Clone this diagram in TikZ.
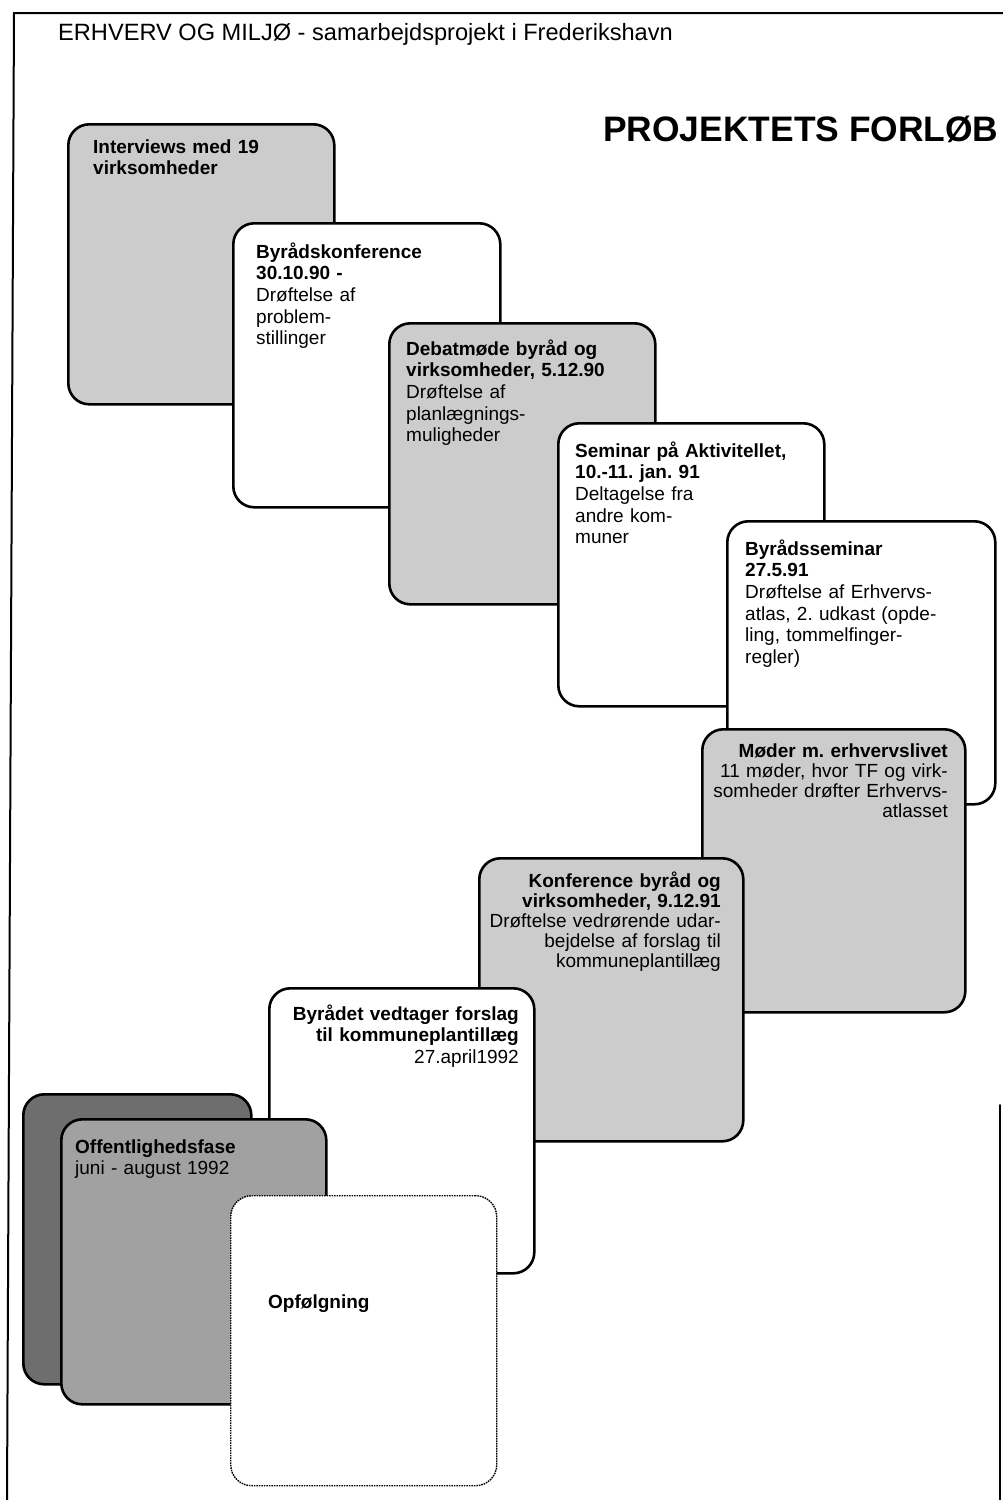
\documentclass[tikz,border=0pt]{standalone}
\usepackage{fontspec}
\setmainfont{Liberation Sans}
\frenchspacing
\definecolor{shadeA}{gray}{0.80}
\definecolor{shadeB}{gray}{0.63}
\definecolor{shadeC}{gray}{0.43}
\tikzset{
  card/.style={draw=black, line width=2.6pt, rounded corners=21pt, inner sep=0pt, anchor=north west, fill=white},
  lightcard/.style={card, fill=shadeA},
  midcard/.style={card, fill=shadeB},
  darkcard/.style={card, fill=shadeC},
  dotcard/.style={card, line width=1.4pt, dash pattern=on 1.6pt off 0.9pt},
  body/.style={inner sep=0pt, text width=255pt, font=\fontsize{19}{21.7}\selectfont\frenchspacing},
  tightbody/.style={font=\fontsize{19}{20.2}\selectfont\frenchspacing},
  lefttext/.style={body, align=left, anchor=base west},
  righttext/.style={body, align=right, anchor=base east},
  frameline/.style={line width=2pt, line cap=round}
}
\begin{document}
\begin{tikzpicture}[x=1pt,y=-1pt]
\useasboundingbox[fill=white] (0,0) rectangle (1003,1500);
% frame
\coordinate (ftl) at (14,13);
\coordinate (ftr) at (1003,13);
\coordinate (fbl) at (7,1500);
\coordinate (frt) at (1000,1105);
\coordinate (frb) at (1000,1500);
\draw[frameline] (ftr) -- (ftl) -- (fbl);
\draw[frameline] (frt) -- (frb);
% headings
\node[inner sep=0pt, anchor=base west, font=\fontsize{23.6}{27}\selectfont] (title) at (58,40) {ERHVERV OG MILJØ - samarbejdsprojekt i Frederikshavn};
\node[inner sep=0pt, anchor=base west, font=\fontsize{35.4}{40}\selectfont\bfseries] (head) at (603,141) {PROJEKTETS FORLØB};
% card 1
\node[lightcard, minimum width=266pt, minimum height=280pt] (c1) at (67,123) {};
\node[lefttext] (t1) at (93,153) {\bfseries Interviews med 19\\virksomheder};
% card 2
\node[card, minimum width=267pt, minimum height=284pt] (c2) at (232,222) {};
\node[lefttext] (t2) at (256,258) {\bfseries Byrådskonference\\30.10.90 -\\\mdseries Drøftelse af\\problem-\\stillinger};
% card 3
\node[lightcard, minimum width=266pt, minimum height=281pt] (c3) at (388,322) {};
\node[lefttext] (t3) at (406,355) {\bfseries Debatmøde byråd og\\virksomheder, 5.12.90\\\mdseries Drøftelse af\\planlægnings-\\muligheder};
% card 4
\node[card, minimum width=266pt, minimum height=283pt] (c4) at (557,422) {};
\node[lefttext] (t4) at (575,457) {\bfseries Seminar på Aktivitellet,\\10.-11. jan. 91\\\mdseries Deltagelse fra\\andre kom-\\muner};
% card 5
\node[card, minimum width=268pt, minimum height=283pt] (c5) at (726,520) {};
\node[lefttext] (t5) at (745,555) {\bfseries Byrådsseminar\\27.5.91\\\mdseries Drøftelse af Erhvervs-\\atlas, 2. udkast (opde-\\ling, tommelfinger-\\regler)};
% card 6
\node[lightcard, minimum width=263pt, minimum height=283pt] (c6) at (701,728) {};
\node[righttext, tightbody] (t6) at (948,757) {\bfseries Møder m. erhvervslivet\\\mdseries 11 møder, hvor TF og virk-\\somheder drøfter Erhvervs-\\atlasset};
% card 7
\node[lightcard, minimum width=264pt, minimum height=283pt] (c7) at (478,857) {};
\node[righttext, tightbody] (t7) at (721,887) {\bfseries Konference byråd og\\virksomheder, 9.12.91\\\mdseries Drøftelse vedrørende udar-\\bejdelse af forslag til\\kommuneplantillæg};
% card 8
\node[card, minimum width=265pt, minimum height=285pt] (c8) at (268,987) {};
\node[righttext] (t8) at (519,1020) {\bfseries Byrådet vedtager forslag\\til kommuneplantillæg\\\mdseries 27.april1992};
% card 9 (dark, behind)
\node[darkcard, minimum width=228pt, minimum height=290pt] (c9) at (22,1093) {};
% card 10
\node[midcard, minimum width=265pt, minimum height=285pt] (c10) at (60,1118) {};
\node[lefttext] (t10) at (75,1153) {\bfseries Offentlighedsfase\\\mdseries juni - august 1992};
% card 11
\node[dotcard, minimum width=266pt, minimum height=290pt] (c11) at (230,1195) {};
\node[lefttext] (t11) at (268,1308) {\bfseries Opfølgning};
\end{tikzpicture}
\end{document}
